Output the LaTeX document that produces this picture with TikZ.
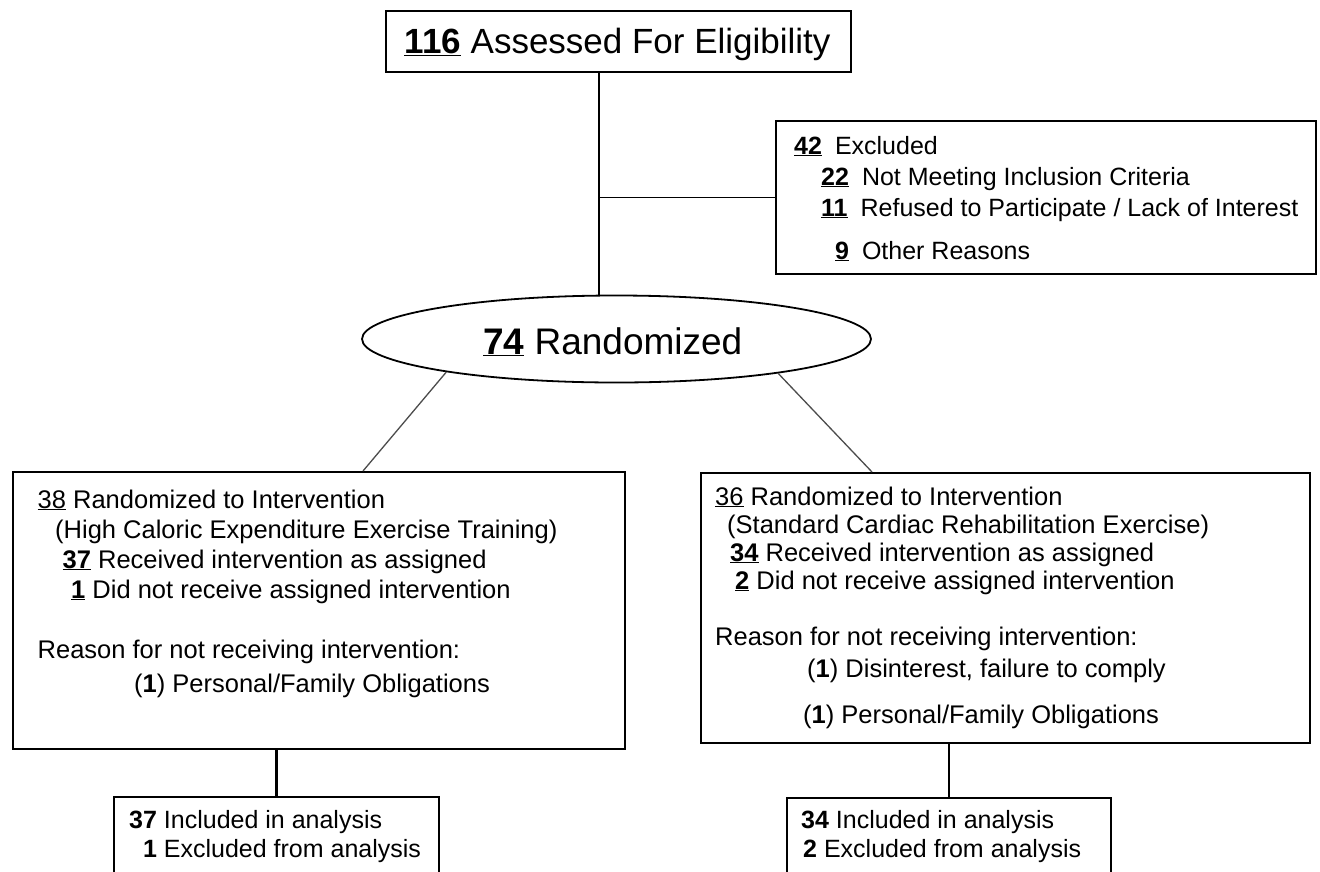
\documentclass[tikz,border=0pt]{standalone}
\usepackage{fontspec}
\setmainfont{Liberation Sans}
\usetikzlibrary{shapes.geometric}
\newcommand{\un}[1]{\underline{#1}}
\newcommand{\bn}[1]{\underline{\textbf{#1}}}
\begin{document}
\begin{tikzpicture}[x=1pt,y=-1pt,
  frame/.style={draw=black, line width=1.8pt, inner sep=0pt, anchor=north west},
  bodytxt/.style={inner sep=0pt, anchor=base west},
  heavyline/.style={line width=2.8pt},
  lightline/.style={line width=1.3pt},
  diag/.style={line width=1.3pt, draw=black!70}]
\clip (0,0) rectangle (1320,871);
\fill[white] (0,0) rectangle (1320,871);

% top box
\node[frame, minimum width=465, minimum height=61] (assess) at (385,10) {};
\node[inner sep=0pt, anchor=base, font=\fontsize{35}{40}\selectfont] (assesstxt) at (617.5,53) {\bn{116} Assessed For Eligibility};

% excluded box
\node[frame, minimum width=540, minimum height=153] (excl) at (775,120) {};
\node[bodytxt, font=\fontsize{25}{31}\selectfont] (excltxt) at (794,154) {\begin{minipage}[t]{510pt}
\bn{42}\hspace{13pt}Excluded\\
\hspace*{27pt}\bn{22}\hspace{13pt}Not Meeting Inclusion Criteria\\
\hspace*{27pt}\bn{11}\hspace{13pt}Refused to Participate / Lack of Interest\\[12pt]
\hspace*{27pt}\makebox[27.8pt][r]{\bn{9}}\hspace{13pt}Other Reasons
\end{minipage}};

% ellipse
\node[draw, ellipse, line width=1.8pt, minimum width=509, minimum height=87, inner sep=0pt] (rand) at (616.5,339) {};
\node[inner sep=0pt, anchor=base west, font=\fontsize{37}{42}\selectfont] (randtxt) at (483,354) {\bn{74} Randomized};

% arm A
\node[frame, minimum width=612, minimum height=277] (armA) at (12,471) {};
\node[bodytxt, font=\fontsize{25.5}{30}\selectfont] (armAtxt) at (37.5,508) {\begin{minipage}[t]{580pt}
\un{38} Randomized to Intervention\\
\hspace*{17.5pt}(High Caloric Expenditure Exercise Training)\\
\hspace*{25pt}\bn{37} Received intervention as assigned\\
\hspace*{33.5pt}\bn{1} Did not receive assigned intervention\\
\mbox{}\\
Reason for not receiving intervention:\\[4pt]
\hspace*{96.5pt}(\textbf{1}) Personal/Family Obligations
\end{minipage}};

% arm B
\node[frame, minimum width=609, minimum height=270] (armB) at (700,472) {};
\node[bodytxt, font=\fontsize{25.5}{28}\selectfont] (armBtxt) at (715,505) {\begin{minipage}[t]{580pt}
\un{36} Randomized to Intervention\\
\hspace*{12pt}(Standard Cardiac Rehabilitation Exercise)\\
\hspace*{15pt}\bn{34} Received intervention as assigned\\
\hspace*{20pt}\bn{2} Did not receive assigned intervention\\
\mbox{}\\
Reason for not receiving intervention:\\[4pt]
\hspace*{92pt}(\textbf{1}) Disinterest, failure to comply\\[18pt]
\hspace*{88pt}(\textbf{1}) Personal/Family Obligations
\end{minipage}};

% analysis boxes
\node[frame, minimum width=325, minimum height=120] (anaA) at (113,796) {};
\node[bodytxt, font=\fontsize{25}{29}\selectfont] (anaAtxt) at (129,828) {\begin{minipage}[t]{300pt}
\textbf{37} Included in analysis\\
\makebox[27.8pt][r]{\textbf{1}} Excluded from analysis
\end{minipage}};
\node[frame, minimum width=324, minimum height=120] (anaB) at (786,797) {};
\node[bodytxt, font=\fontsize{25}{29}\selectfont] (anaBtxt) at (801,828) {\begin{minipage}[t]{300pt}
\textbf{34} Included in analysis\\
\hspace*{2pt}\textbf{2} Excluded from analysis
\end{minipage}};

% connectors
\coordinate (jx) at (599,0);
\coordinate (aIn) at (363,471);
\coordinate (bIn) at (872,472);
\draw[heavyline] (assess.south -| jx) -- (rand.north -| jx);
\draw[lightline] (excl.west -| jx) -- (excl.west);
\draw[diag] (rand.191.6) -- (aIn);
\draw[diag] (rand.348.7) -- (bIn);
\draw[heavyline] (armA.south -| anaA.north) -- (anaA.north);
\draw[lightline] (armB.south -| anaB.north) -- (anaB.north);
\end{tikzpicture}
\end{document}
